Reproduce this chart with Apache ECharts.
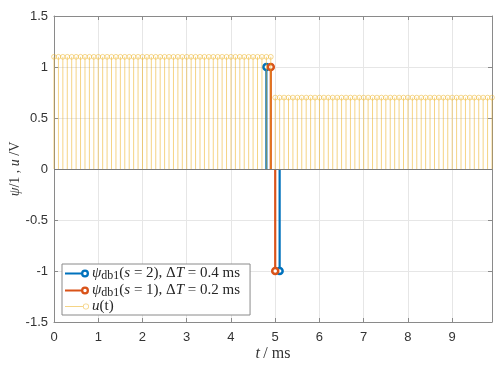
<!DOCTYPE html>
<html><head><meta charset="utf-8">
<script src="https://cdn.jsdelivr.net/npm/echarts@6/dist/echarts.min.js"></script>
<style>html,body{margin:0;padding:0;background:#fff}#c{width:500px;height:369px}</style>
</head><body><div id="c"></div>
<script>
// ---- data ----
const psi2Time = [4.8, 5.1];
const psi2Value = [1, -1];
const psi1Time = [4.9, 5.0];
const psi1Value = [1, -1];
const uTime = [0.0,0.1,0.2,0.3,0.4,0.5,0.6,0.7,0.8,0.9,1.0,1.1,1.2,1.3,1.4,1.5,1.6,1.7,1.8,1.9,
  2.0,2.1,2.2,2.3,2.4,2.5,2.6,2.7,2.8,2.9,3.0,3.1,3.2,3.3,3.4,3.5,3.6,3.7,3.8,3.9,
  4.0,4.1,4.2,4.3,4.4,4.5,4.6,4.7,4.8,4.9,5.0,5.1,5.2,5.3,5.4,5.5,5.6,5.7,5.8,5.9,
  6.0,6.1,6.2,6.3,6.4,6.5,6.6,6.7,6.8,6.9,7.0,7.1,7.2,7.3,7.4,7.5,7.6,7.7,7.8,7.9,
  8.0,8.1,8.2,8.3,8.4,8.5,8.6,8.7,8.8,8.9,9.0,9.1,9.2,9.3,9.4,9.5,9.6,9.7,9.8,9.9];
const uValue = [1.1,1.1,1.1,1.1,1.1,1.1,1.1,1.1,1.1,1.1,1.1,1.1,1.1,1.1,1.1,1.1,1.1,1.1,1.1,1.1,
  1.1,1.1,1.1,1.1,1.1,1.1,1.1,1.1,1.1,1.1,1.1,1.1,1.1,1.1,1.1,1.1,1.1,1.1,1.1,1.1,
  1.1,1.1,1.1,1.1,1.1,1.1,1.1,1.1,1.1,1.1,0.7,0.7,0.7,0.7,0.7,0.7,0.7,0.7,0.7,0.7,
  0.7,0.7,0.7,0.7,0.7,0.7,0.7,0.7,0.7,0.7,0.7,0.7,0.7,0.7,0.7,0.7,0.7,0.7,0.7,0.7,
  0.7,0.7,0.7,0.7,0.7,0.7,0.7,0.7,0.7,0.7,0.7,0.7,0.7,0.7,0.7,0.7,0.7,0.7,0.7,0.7];
const xTicks = [0,1,2,3,4,5,6,7,8,9];
const yTicks = [-1.5,-1,-0.5,0,0.5,1,1.5];

const zip = (a,b) => a.map((v,i)=>[v,b[i]]);
const SERIF = '"Liberation Serif","DejaVu Serif",serif';
const SANS = '"Liberation Sans",Arial,sans-serif';
const AX = '#8a8a8a';

function stem(color, lw, r, mlw, fill){
  return function(params, api){
    const x = api.value(0), y = api.value(1);
    const p0 = api.coord([x,0]), p1 = api.coord([x,y]);
    return {type:'group', children:[
      {type:'line', shape:{x1:p0[0],y1:p0[1],x2:p1[0],y2:p1[1]}, style:{stroke:color,lineWidth:lw}},
      {type:'circle', shape:{cx:p1[0],cy:p1[1],r:r}, style:{fill:fill,stroke:color,lineWidth:mlw}}
    ]};
  };
}
const BLUE='#0072BD', ORANGE='#D95319', YEL='rgba(237,177,32,0.55)';
const iconThick = 'path://M0,3 L17,3 L17,5 L0,5 Z M20,0 A4,4 0 1,1 20,8 A4,4 0 1,1 20,0 Z M20,2.3 A1.7,1.7 0 1,0 20,5.7 A1.7,1.7 0 1,0 20,2.3 Z';
const iconThin = 'path://M0,3.6 L17.5,3.6 L17.5,4.4 L0,4.4 Z M20.5,1 A3,3 0 1,1 20.5,7 A3,3 0 1,1 20.5,1 Z M20.5,1.8 A2.2,2.2 0 1,0 20.5,6.2 A2.2,2.2 0 1,0 20.5,1.8 Z';

const labels = {
  psi2: '{i|ψ}{sub|db1}{n|(}{i|s}{n| = 2), Δ}{i|T}{n| = 0.4 ms}',
  psi1: '{i|ψ}{sub|db1}{n|(}{i|s}{n| = 1), Δ}{i|T}{n| = 0.2 ms}',
  u: '{i|u}{n|(t)}'
};
const richLeg = {
  i:{fontFamily:SERIF,fontStyle:'italic',fontSize:15,color:'#262626',lineHeight:14},
  n:{fontFamily:SERIF,fontSize:15,color:'#262626',lineHeight:14},
  sub:{fontFamily:SERIF,fontSize:12,color:'#262626',lineHeight:8,padding:[5,0,0,0]}
};

const chart = echarts.init(document.getElementById('c'));
const axCommon = {
  axisLine:{show:true,onZero:false,lineStyle:{color:AX,width:1}},
  axisTick:{show:true,inside:true,length:4,lineStyle:{color:AX}},
};
chart.setOption({
  animation:false,
  grid:{left:54,right:8,top:16,bottom:47,containLabel:false,outerBoundsMode:'none'},
  xAxis:[
    Object.assign({type:'value',min:0,max:9.9,interval:1,position:'bottom',
      axisLabel:{color:'#333',fontFamily:SANS,fontSize:13,margin:9,
        formatter:v=>xTicks.indexOf(v)>=0?String(v):'' , showMaxLabel:false},
      splitLine:{show:true,lineStyle:{color:'#e6e6e6',width:1}},
      name:'{i|t} {n|/ ms}', nameLocation:'middle', nameGap:24, nameMoveOverlap:false,
      nameTextStyle:{rich:{i:{fontFamily:SERIF,fontStyle:'italic',fontSize:16,color:'#333'},n:{fontFamily:SERIF,fontSize:16,color:'#333'}}}
    },axCommon),
    Object.assign({type:'value',min:0,max:9.9,interval:1,position:'top',
      axisLabel:{show:false},splitLine:{show:false}},axCommon)
  ],
  yAxis:[
    Object.assign({type:'value',min:-1.5,max:1.5,interval:0.5,position:'left',
      axisLabel:{color:'#333',fontFamily:SANS,fontSize:13,margin:6,
        formatter:v=>yTicks.indexOf(v)>=0?String(v):''},
      splitLine:{show:true,lineStyle:{color:'#e6e6e6',width:1}},
      name:'{i|ψ}{n|/1 , }{i|u}{n| /V}', nameLocation:'middle', nameGap:32, nameMoveOverlap:false,
      nameTextStyle:{rich:{i:{fontFamily:SERIF,fontStyle:'italic',fontSize:14,color:'#333'},n:{fontFamily:SERIF,fontSize:14,color:'#333'}}}
    },axCommon),
    Object.assign({type:'value',min:-1.5,max:1.5,interval:0.5,position:'right',
      axisLabel:{show:false},splitLine:{show:false}},axCommon)
  ],
  legend:{
    orient:'vertical', left:62, top:264, itemWidth:24, itemHeight:8, itemGap:0,
    padding:[1,10,1,3], borderColor:'#8a8a8a', borderWidth:1, backgroundColor:'#fff',
    textStyle:{rich:richLeg, padding:[0,0,0,-2]},
    formatter:n=>labels[n],
    data:[{name:'psi2',icon:iconThick},{name:'psi1',icon:iconThick},{name:'u',icon:iconThin}]
  },
  series:[
    {name:'psi2',type:'custom',renderItem:stem(BLUE,2.2,3,2.5,'#fff'),itemStyle:{color:BLUE},data:zip(psi2Time,psi2Value),z:3},
    {name:'psi1',type:'custom',renderItem:stem(ORANGE,2.2,3,2.5,'#fff'),itemStyle:{color:ORANGE},data:zip(psi1Time,psi1Value),z:4},
    {name:'u',type:'custom',renderItem:stem(YEL,1,2.4,0.9,'rgba(255,255,255,0)'),itemStyle:{color:YEL},data:zip(uTime,uValue),z:5,
      markLine:{silent:true,symbol:'none',label:{show:false},lineStyle:{color:'#7a7a7a',type:'solid',width:1},data:[{yAxis:0}]}}
  ]
});
</script></body></html>
